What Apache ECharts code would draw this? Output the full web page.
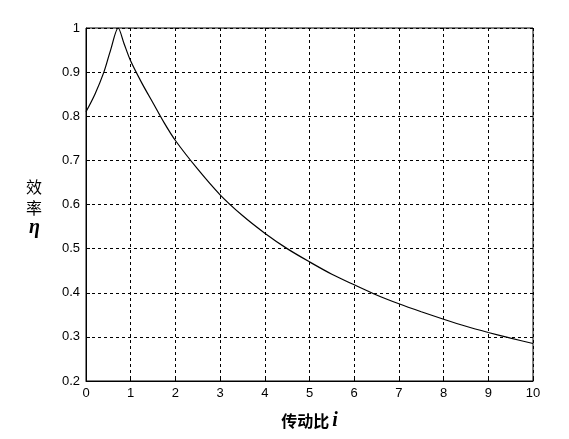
<!DOCTYPE html>
<html><head><meta charset="utf-8">
<script src="https://cdn.jsdelivr.net/npm/echarts@6/dist/echarts.min.js"></script>
<style>html,body{margin:0;background:#fff}#main{width:569px;height:439px}</style>
</head><body><div id="main"></div>
<script>
// 传动比 i vs 效率 η
var ratio = [0, 0.2, 0.4, 0.55, 0.72, 0.85, 1, 1.25, 1.5, 1.75, 2, 2.5, 3, 3.5, 4, 4.5, 5, 5.5, 6, 6.5, 7, 7.5, 8, 8.5, 9, 9.5, 10];
var eff   = [0.81, 0.85, 0.9, 0.95, 1.0, 0.965, 0.925, 0.875, 0.83, 0.785, 0.745, 0.68, 0.622, 0.575, 0.535, 0.5, 0.47, 0.442, 0.418, 0.395, 0.375, 0.357, 0.34, 0.324, 0.31, 0.297, 0.285];

var chart = echarts.init(document.getElementById('main'));
var pts = [];
for (var i = 0; i < ratio.length; i++) pts.push([ratio[i], eff[i]]);
chart.setOption({
    animation: false,
    grid: {left: 86, right: 36, top: 28, bottom: 58},
    xAxis: {
        type: 'value', min: 0, max: 10, interval: 1,
        axisLine: {lineStyle: {color: '#000'}},
        axisTick: {inside: true, length: 4, lineStyle: {color: '#000'}},
        axisLabel: {color: '#000', fontSize: 13, fontFamily: 'Liberation Sans', margin: 6},
        splitLine: {show: true, lineStyle: {type: [3, 3], color: '#000'}},
        name: '{a|传动比}{b|i}', nameLocation: 'middle', nameGap: 30,
        nameTextStyle: {rich: {
            a: {color: '#000', fontSize: 16, fontWeight: 'bold', fontFamily: 'Noto Sans CJK SC'},
            b: {color: '#000', fontSize: 20, fontWeight: 'bold', fontStyle: 'italic', fontFamily: 'Liberation Serif', padding: [0, 0, 0, 3]}
        }}
    },
    yAxis: {
        type: 'value', min: 0.2, max: 1, interval: 0.1,
        axisLine: {show: true, lineStyle: {color: '#000'}},
        axisTick: {inside: true, length: 4, lineStyle: {color: '#000'}},
        axisLabel: {color: '#000', fontSize: 13, fontFamily: 'Liberation Sans', margin: 6,
            formatter: function (v) { return Math.round(v * 10) / 10 + ''; }},
        splitLine: {show: true, lineStyle: {type: [3, 3], color: '#000'}}
    },
    graphic: [
        {type: 'text', left: 26, top: 176,
         style: {text: '效\n率', fill: '#000', font: '16px "Noto Sans CJK SC"', lineHeight: 21}},
        {type: 'text', left: 29, top: 218,
         style: {text: 'η', fill: '#000', font: 'italic bold 20px "Liberation Serif"'}},
        {type: 'rect', shape: {x: 86, y: 28, width: 447, height: 353}, style: {fill: 'none', stroke: '#000', lineWidth: 1}}
    ],
    series: [{
        type: 'line', data: pts, smooth: 0.3, showSymbol: false,
        lineStyle: {color: '#000', width: 1.2}
    }]
});
</script></body></html>
